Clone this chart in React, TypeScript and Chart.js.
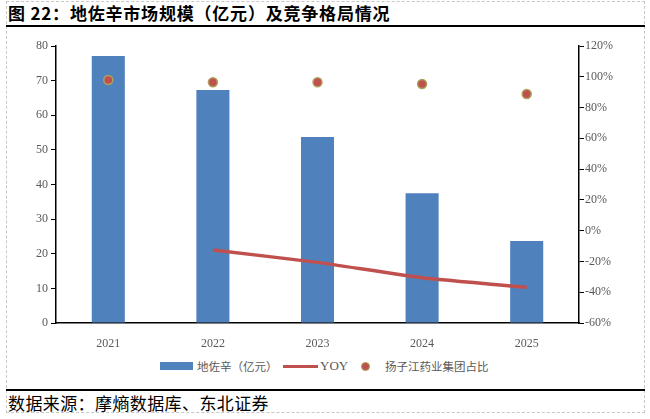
import { useEffect, useRef } from "react"
import { Chart, registerables } from "chart.js"

Chart.register(...registerables)

const years = ["2021", "2022", "2023", "2024", "2025"]
const marketSize = [77.1, 67.3, 53.7, 37.5, 23.7]
const yoy = [null, -12.6, -20.6, -30.6, -36.8]
const yangziShare = [97.9, 96.4, 96.4, 95.3, 88.8]

const BLUE = "#4f81bd"
const RED = "#c0504d"
const TICK = "#595959"
const serif = "'Liberation Serif', 'Times New Roman', serif"
const cjk = "'Noto Sans CJK SC', sans-serif"

export default function App() {
  const chartRef = useRef<HTMLCanvasElement>(null)
  const chartInstance = useRef<Chart | null>(null)

  useEffect(() => {
    if (!chartRef.current) return
    if (chartInstance.current) chartInstance.current.destroy()
    const ctx = chartRef.current.getContext("2d")
    if (!ctx) return

    chartInstance.current = new Chart(ctx, {
      type: "bar",
      data: {
        labels: years,
        datasets: [
          {
            type: "line",
            label: "扬子江药业集团占比",
            data: yangziShare,
            yAxisID: "y1",
            showLine: false,
            pointRadius: 4.5,
            pointBackgroundColor: RED,
            pointBorderColor: "#aaa25c",
            pointBorderWidth: 1.5,
            order: 1,
          },
          {
            type: "line",
            label: "YOY",
            data: yoy,
            yAxisID: "y1",
            borderColor: RED,
            borderWidth: 3.5,
            pointRadius: 0,
            tension: 0.15,
            order: 2,
          },
          {
            type: "bar",
            label: "地佐辛（亿元）",
            data: marketSize,
            yAxisID: "y",
            backgroundColor: BLUE,
            categoryPercentage: 1,
            barPercentage: 0.316,
            order: 3,
          },
        ],
      },
      options: {
        animation: false,
        responsive: true,
        maintainAspectRatio: false,
        layout: { padding: { top: 20, left: 0, right: 0, bottom: 0 } },
        plugins: {
          legend: { display: false },
          tooltip: { enabled: false },
        },
        scales: {
          x: {
            grid: { display: false },
            border: { color: "#000", width: 1.5 },
            ticks: { color: TICK, font: { family: serif, size: 12 }, padding: 6 },
            afterFit: (s: any) => {
              s.height = 27
            },
          },
          y: {
            position: "left",
            min: 0,
            max: 80,
            ticks: { stepSize: 10, color: TICK, font: { family: serif, size: 12 }, padding: 3 },
            grid: { drawOnChartArea: false, drawTicks: true, tickLength: 5, color: "#000", lineWidth: 1 },
            border: { color: "#000", width: 1.5 },
            afterFit: (s: any) => {
              s.width = 56
            },
          },
          y1: {
            position: "right",
            min: -60,
            max: 120,
            ticks: {
              stepSize: 20,
              color: TICK,
              font: { family: serif, size: 12 },
              padding: 1,
              callback: (v: any) => v + "%",
            },
            grid: { drawOnChartArea: false, drawTicks: true, tickLength: 5, color: "#000", lineWidth: 1 },
            border: { color: "#000", width: 1.5 },
            afterFit: (s: any) => {
              s.width = 71
            },
          },
        },
      },
    })

    return () => {
      if (chartInstance.current) {
        chartInstance.current.destroy()
        chartInstance.current = null
      }
    }
  }, [])

  const legendText = { position: "absolute" as const, top: 358, fontFamily: cjk, fontSize: 11.5, color: TICK, lineHeight: "16px" }

  return (
    <div style={{ position: "fixed", left: 0, top: 0, width: 650, height: 419, background: "#fff" }}>
      <div style={{ position: "absolute", left: 6, top: 1, width: 639, height: 412, border: "1px dashed #c8c8c8", boxSizing: "border-box" }} />
      <div style={{ position: "absolute", left: 8, top: 2, fontFamily: cjk, fontWeight: 700, fontSize: 17, letterSpacing: 0.8, lineHeight: "22px", color: "#000", whiteSpace: "nowrap" }}>
        图 22：地佐辛市场规模（亿元）及竞争格局情况
      </div>
      <div style={{ position: "absolute", left: 6, top: 25, width: 639, height: 2, background: "#000" }} />
      <div style={{ position: "absolute", left: 0, top: 26, width: 650, height: 324 }}>
        <canvas ref={chartRef} />
      </div>
      <div style={{ position: "absolute", left: 160, top: 362, width: 33, height: 8, background: BLUE }} />
      <div style={{ ...legendText, left: 197 }}>地佐辛（亿元）</div>
      <div style={{ position: "absolute", left: 283, top: 364.5, width: 35, height: 3.5, background: RED }} />
      <div style={{ ...legendText, left: 320, fontFamily: serif, fontSize: 13 }}>YOY</div>
      <div style={{ position: "absolute", left: 360.5, top: 361.5, width: 9, height: 9, borderRadius: "50%", background: RED, border: "1.5px solid #aaa25c", boxSizing: "border-box" }} />
      <div style={{ ...legendText, left: 385 }}>扬子江药业集团占比</div>
      <div style={{ position: "absolute", left: 6, top: 389, width: 639, height: 2, background: "#000" }} />
      <div style={{ position: "absolute", left: 8, top: 392, fontFamily: cjk, fontSize: 17, letterSpacing: 0.4, lineHeight: "22px", color: "#000", whiteSpace: "nowrap" }}>
        数据来源：摩熵数据库、东北证券
      </div>
    </div>
  )
}
